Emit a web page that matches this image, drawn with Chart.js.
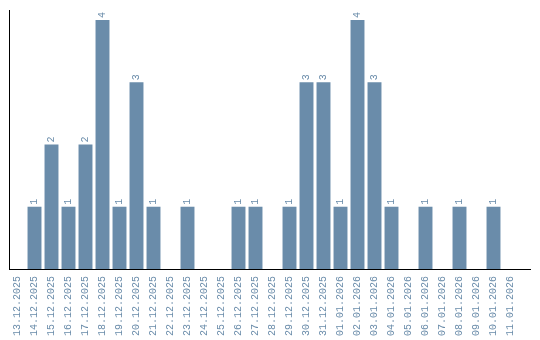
<!DOCTYPE html>
<html>
<head>
<meta charset="utf-8">
<script src="https://cdn.jsdelivr.net/npm/chart.js@4/dist/chart.umd.min.js"></script>
<style>
  html, body { margin: 0; padding: 0; background: #fff; }
  #wrap { width: 540px; height: 340px; }
</style>
</head>
<body>
<div id="wrap"><canvas id="daily-chart"></canvas></div>
<script>
var days = ['13.12.2025', '14.12.2025', '15.12.2025', '16.12.2025', '17.12.2025', '18.12.2025',
  '19.12.2025', '20.12.2025', '21.12.2025', '22.12.2025', '23.12.2025', '24.12.2025',
  '25.12.2025', '26.12.2025', '27.12.2025', '28.12.2025', '29.12.2025', '30.12.2025',
  '31.12.2025', '01.01.2026', '02.01.2026', '03.01.2026', '04.01.2026', '05.01.2026',
  '06.01.2026', '07.01.2026', '08.01.2026', '09.01.2026', '10.01.2026', '11.01.2026'];
var counts = [0, 1, 2, 1, 2, 4, 1, 3, 1, 0, 1, 0, 0, 1, 1, 0, 1, 3, 3, 1, 4, 3, 1, 0, 1, 0, 1, 0, 1, 0];

var barColor = '#6a8caa';
var monoFont = '"Liberation Mono", monospace';

// value on top of each bar, written upwards
var valueLabels = {
    id: 'valueLabels',
    afterDatasetsDraw: function(chart) {
        var ctx = chart.ctx;
        var meta = chart.getDatasetMeta(0);
        ctx.save();
        ctx.fillStyle = barColor;
        ctx.font = '10px ' + monoFont;
        ctx.textAlign = 'left';
        ctx.textBaseline = 'middle';
        meta.data.forEach(function(bar, i) {
            var v = chart.data.datasets[0].data[i];
            if (!v) return;
            ctx.save();
            ctx.translate(bar.x, bar.y - 2);
            ctx.rotate(-Math.PI / 2);
            ctx.fillText(String(v), 0, 0);
            ctx.restore();
        });
        ctx.restore();
    }
};

// bottom axis line, runs a bit past the last day
var baseLine = {
    id: 'baseLine',
    afterDraw: function(chart) {
        var a = chart.chartArea;
        var ctx = chart.ctx;
        var y = Math.round(a.bottom) + 0.5;
        ctx.save();
        ctx.strokeStyle = '#000';
        ctx.lineWidth = 1;
        ctx.beginPath();
        ctx.moveTo(a.left, y);
        ctx.lineTo(531, y);
        ctx.stroke();
        ctx.restore();
    }
};

var ctx = document.getElementById('daily-chart').getContext('2d');
var dailyChart = new Chart(ctx, {
    type: 'bar',
    data: {
        labels: days,
        datasets: [{
            data: counts,
            backgroundColor: barColor,
            borderWidth: 0,
            barPercentage: 0.82,
            categoryPercentage: 1
        }]
    },
    options: {
        responsive: true,
        maintainAspectRatio: false,
        animation: false,
        layout: {
            padding: { left: 9, right: 21, top: 10, bottom: -3 }
        },
        plugins: {
            legend: { display: false },
            tooltip: { enabled: false }
        },
        scales: {
            x: {
                grid: { display: false, drawTicks: false },
                border: { display: false },
                ticks: {
                    color: barColor,
                    font: { family: monoFont, size: 10 },
                    minRotation: 90,
                    maxRotation: 90,
                    autoSkip: false,
                    padding: 7
                }
            },
            y: {
                min: 0,
                max: 4.16,
                grid: { display: false, drawTicks: false },
                border: { display: true, color: '#000', width: 1 },
                ticks: { display: false }
            }
        }
    },
    plugins: [valueLabels, baseLine]
});
</script>
</body>
</html>
